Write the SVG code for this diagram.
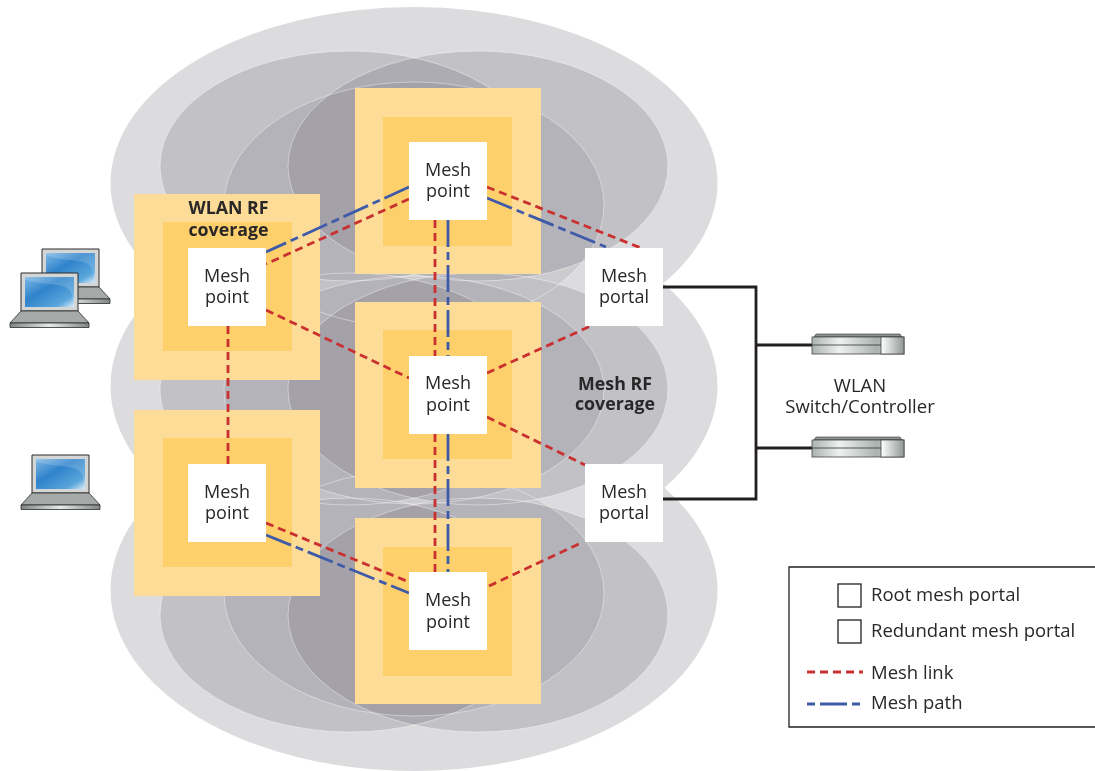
<svg xmlns="http://www.w3.org/2000/svg" xmlns:xlink="http://www.w3.org/1999/xlink" width="1095" height="771" viewBox="0 0 1095 771">
<style>
text{font-family:"Open Sans","Noto Sans","Liberation Sans",sans-serif;fill:#2a2728;font-size:18px;text-anchor:middle}
.b{font-weight:700;font-size:17.800px}
.l{text-anchor:start;font-size:18.500px}
.set{mix-blend-mode:darken}
.o{fill:#dcdcde}
.a{fill:#6b6570;fill-opacity:.22}
.c{fill:#6b6570;fill-opacity:.14}
.e{fill:none;stroke:#fff;stroke-opacity:.4;stroke-width:1}
.c1{fill:#fddc98}.c2{fill:#fed06b}.w{fill:#fff}
.red{fill:none;stroke:#c9302f;stroke-width:2.800;stroke-dasharray:8 5}
.blue{fill:none;stroke:#3f5aa8;stroke-width:2.800;stroke-dasharray:27 5 8 5}
.k{fill:none;stroke:#231f20;stroke-width:2.800}
.sq{fill:#fff;stroke:#231f20;stroke-width:1.300}
</style>
<defs>
<linearGradient id="scr" x1="0" y1="0" x2="1" y2="1"><stop offset="0" stop-color="#7fb9e6"/><stop offset=".4" stop-color="#2f83cb"/><stop offset=".8" stop-color="#5aa6dc"/><stop offset="1" stop-color="#dceef9"/></linearGradient>
<linearGradient id="kb" x1="0" y1="0" x2="1" y2="0"><stop offset="0" stop-color="#7f8684"/><stop offset=".5" stop-color="#e6eae8"/><stop offset="1" stop-color="#7f8684"/></linearGradient>
<linearGradient id="rk" x1="0" y1="0" x2="1" y2="0"><stop offset="0" stop-color="#a9b3b0"/><stop offset=".3" stop-color="#eef1f0"/><stop offset=".7" stop-color="#aab3b0"/><stop offset="1" stop-color="#c8cfcc"/></linearGradient>
<linearGradient id="rk2" x1="0" y1="0" x2="1" y2="0"><stop offset="0" stop-color="#fff"/><stop offset="1" stop-color="#8f9795"/></linearGradient>
<g id="laptop">
<path d="M0 38H57V0H0Z" fill="#d3d6d5" stroke="#2b2b2b" stroke-width="1"/>
<rect x="4" y="4" width="49" height="30" fill="url(#scr)"/>
<path d="M4 6C18 12 34 10 44 14S50 28 53 34V4H4Z" fill="#fff" fill-opacity=".16"/>
<path d="M0 38H57L68 50H-11Z" fill="#a5aaa8" stroke="#2b2b2b" stroke-width=".8"/>
<path d="M-11 50H68V54.500H-11Z" fill="url(#kb)" stroke="#2b2b2b" stroke-width=".8"/>
</g>
<g id="rack">
<path d="M2 3L4 0H88L90 3Z" fill="#8d9391" stroke="#333" stroke-width=".6"/>
<rect x="0" y="3" width="92" height="17" fill="url(#rk)" stroke="#444" stroke-width=".8"/>
<rect x="69" y="3" width="23" height="17" fill="url(#rk2)" stroke="#444" stroke-width=".8"/>
<path d="M0 11H69" stroke="#333" stroke-width=".8"/>
</g>
<g id="shadeT">
<ellipse class="o" cx="414" cy="183" rx="303.500" ry="176"/>
<ellipse class="a" cx="350" cy="166" rx="190" ry="115"/>
<ellipse class="a" cx="478" cy="166" rx="190" ry="115"/>
<ellipse class="c" cx="414" cy="205" rx="190" ry="123"/>
</g>
<g id="shadeM">
<ellipse class="o" cx="414" cy="386" rx="303.500" ry="180"/>
<ellipse class="a" cx="350" cy="389" rx="190" ry="116"/>
<ellipse class="a" cx="478" cy="389" rx="190" ry="116"/>
<ellipse class="c" cx="414" cy="390" rx="190" ry="114"/>
</g>
<g id="shadeB">
<ellipse class="o" cx="414" cy="590" rx="303.500" ry="181"/>
<ellipse class="a" cx="350" cy="615" rx="190" ry="117"/>
<ellipse class="a" cx="478" cy="615" rx="190" ry="117"/>
<ellipse class="c" cx="414" cy="593" rx="190" ry="123"/>
</g>
</defs>
<rect width="1095" height="771" fill="#fff"/>
<g id="coverage">
<use class="set" xlink:href="#shadeT" href="#shadeT"/>
<use class="set" xlink:href="#shadeM" href="#shadeM"/>
<use class="set" xlink:href="#shadeB" href="#shadeB"/>
<ellipse class="e" cx="350" cy="166" rx="190" ry="115"/><ellipse class="e" cx="478" cy="166" rx="190" ry="115"/><ellipse class="e" cx="414" cy="205" rx="190" ry="123"/>
<ellipse class="e" cx="350" cy="389" rx="190" ry="116"/><ellipse class="e" cx="478" cy="389" rx="190" ry="116"/><ellipse class="e" cx="414" cy="390" rx="190" ry="114"/>
<ellipse class="e" cx="350" cy="615" rx="190" ry="117"/><ellipse class="e" cx="478" cy="615" rx="190" ry="117"/><ellipse class="e" cx="414" cy="593" rx="190" ry="123"/>
</g>
<g id="rf-boxes">
<rect class="c1" x="355" y="88" width="186" height="186"/><rect class="c2" x="383" y="117" width="129" height="129"/>
<rect class="c1" x="134" y="194" width="186" height="186"/><rect class="c2" x="163" y="222" width="129" height="129"/>
<rect class="c1" x="355" y="302" width="186" height="186"/><rect class="c2" x="383" y="330" width="129" height="129"/>
<rect class="c1" x="134" y="410" width="186" height="186"/><rect class="c2" x="163" y="438" width="129" height="129"/>
<rect class="c1" x="355" y="518" width="186" height="186"/><rect class="c2" x="383" y="547" width="129" height="129"/>
</g>
<g id="connectors">
<path class="red" d="M409 199L266 264"/>
<path class="blue" d="M409 187L266 252"/>
<path class="red" d="M487 187L641 248"/>
<path class="blue" d="M487 198L606 247"/>
<path class="red" d="M435 220V356M435 434V572"/>
<path class="blue" d="M448 220V356M448 434V572"/>
<path class="red" d="M228 326V464"/>
<path class="red" d="M266 310L409 378"/>
<path class="red" d="M487 373L593 325"/>
<path class="red" d="M487 417L585 465"/>
<path class="red" d="M266 523L409 582"/>
<path class="blue" d="M266 535L409 593"/>
<path class="red" d="M489 586L583 542"/>
<path class="k" d="M663 287H756V499H663M756 345H812M756 448H812"/>
</g>
<g id="node-top"><rect class="w" x="409" y="142" width="78" height="78"/><text x="448" y="176">Mesh</text><text x="448" y="197">point</text></g>
<g id="node-left1"><rect class="w" x="188" y="248" width="78" height="78"/><text x="227" y="282">Mesh</text><text x="227" y="303">point</text></g>
<g id="node-mid"><rect class="w" x="409" y="356" width="78" height="78"/><text x="448" y="389">Mesh</text><text x="448" y="411">point</text></g>
<g id="node-left2"><rect class="w" x="188" y="464" width="78" height="78"/><text x="227" y="498">Mesh</text><text x="227" y="519">point</text></g>
<g id="node-bottom"><rect class="w" x="409" y="572" width="78" height="78"/><text x="448" y="606">Mesh</text><text x="448" y="628">point</text></g>
<g id="portal-1"><rect class="w" x="585" y="248" width="78" height="78"/><text x="624" y="282">Mesh</text><text x="624" y="303">portal</text></g>
<g id="portal-2"><rect class="w" x="585" y="464" width="78" height="78"/><text x="624" y="498">Mesh</text><text x="624" y="519">portal</text></g>
<g id="labels">
<text class="b" x="228.500" y="214">WLAN RF</text><text class="b" x="228.500" y="236">coverage</text>
<text class="b" x="615" y="390">Mesh RF</text><text class="b" x="615" y="410">coverage</text>
<text x="860" y="392" style="font-size:18.500px">WLAN</text><text x="860" y="413" style="font-size:18.500px">Switch/Controller</text>
</g>
<g id="laptops">
<use xlink:href="#laptop" href="#laptop" x="42" y="249"/>
<use xlink:href="#laptop" href="#laptop" x="21" y="273"/>
<use xlink:href="#laptop" href="#laptop" x="32" y="455"/>
</g>
<g id="switches">
<use xlink:href="#rack" href="#rack" x="812" y="334"/>
<use xlink:href="#rack" href="#rack" x="812" y="437"/>
</g>
<g id="legend">
<path d="M1095 567H789V727H1095" fill="#fff" stroke="#231f20" stroke-width="1.300"/>
<rect class="sq" x="838" y="584" width="23" height="23"/>
<rect class="sq" x="838" y="620" width="23" height="23"/>
<text class="l" x="871" y="601">Root mesh portal</text>
<text class="l" x="871" y="637">Redundant mesh portal</text>
<path class="red" d="M807 672H863"/>
<path class="blue" d="M807 704H860" style="stroke-dasharray:8 5 27 5 8"/>
<text class="l" x="871" y="679">Mesh link</text>
<text class="l" x="871" y="709">Mesh path</text>
</g>
</svg>
